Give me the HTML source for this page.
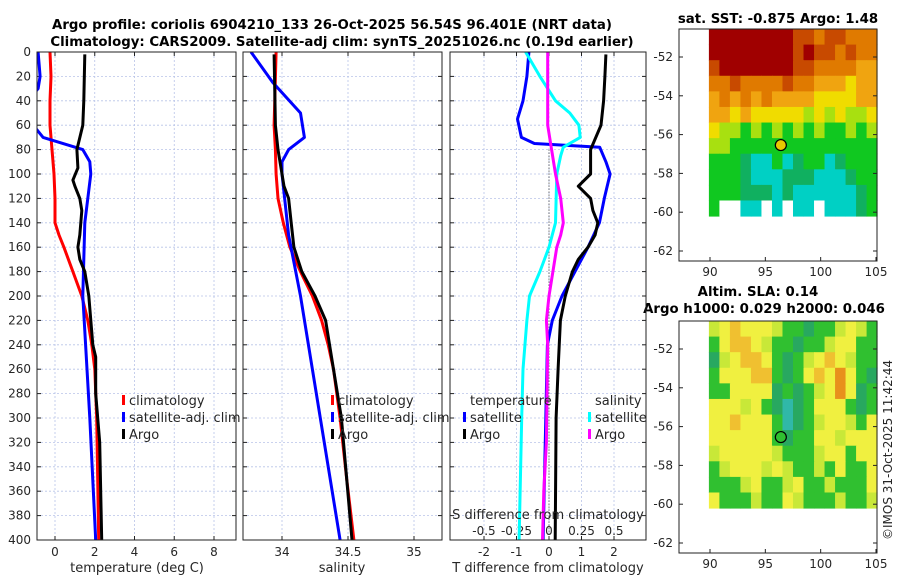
<!DOCTYPE html>
<html><head><meta charset="utf-8">
<style>
html,body{margin:0;padding:0;background:#fff;}
svg{display:block;font-family:"DejaVu Sans","Liberation Sans",sans-serif;}
.tk{font-size:12px;fill:#262626;}
.tt{font-size:13.3px;font-weight:bold;fill:#000;}
.lg{font-size:13px;fill:#262626;}
</style></head>
<body>
<svg id="fig" width="900" height="580" viewBox="0 0 900 580" xmlns="http://www.w3.org/2000/svg">
<text class="tt" x="332" y="29" text-anchor="middle">Argo profile: coriolis 6904210_133 26-Oct-2025 56.54S 96.401E (NRT data)</text>
<text class="tt" x="342" y="46" text-anchor="middle">Climatology: CARS2009. Satellite-adj clim: synTS_20251026.nc (0.19d earlier)</text>
<text class="tt" x="778" y="23" text-anchor="middle">sat. SST: -0.875 Argo: 1.48</text>
<text class="tt" x="758" y="296" text-anchor="middle">Altim. SLA: 0.14</text>
<text class="tt" x="764" y="313" text-anchor="middle">Argo h1000: 0.029 h2000: 0.046</text>
<text class="tk" x="0" y="0" transform="translate(892,540) rotate(-90)">©IMOS 31-Oct-2025 11:42:44</text>
</svg>
<script>
// ---------- data ----------
var tClimDepth=[0,20,40,60,80,100,120,140,150,160,180,200,220,240,260,300,350,400];
var tClimVal=[-0.25,-0.2,-0.25,-0.25,-0.15,-0.05,0.0,0.0,0.2,0.45,0.9,1.35,1.65,1.85,2.0,2.1,2.15,2.2];
var tSatDepth=[0,20,30,35,45,62,70,80,90,100,140,200,300,400];
var tSatVal=[-0.85,-0.75,-0.85,-1.1,-1.5,-1.0,-0.6,1.4,1.75,1.8,1.5,1.4,1.75,2.05];
var tArgoDepth=[2,40,60,80,95,105,110,120,130,150,160,170,180,200,220,240,250,280,300,320,400];
var tArgoVal=[1.5,1.45,1.4,1.1,1.15,0.9,1.0,1.25,1.35,1.25,1.15,1.25,1.5,1.7,1.8,1.9,2.05,2.05,2.15,2.25,2.35];
var sClimDepth=[0,60,80,100,120,140,160,180,200,220,240,260,300,350,400];
var sClimVal=[33.955,33.94,33.95,33.955,33.97,34.01,34.06,34.14,34.23,34.3,34.35,34.39,34.44,34.49,34.545];
var sArgoDepth=[2,60,80,100,110,120,140,160,180,200,220,260,300,350,400];
var sArgoVal=[33.94,33.95,33.97,34.0,34.015,34.05,34.07,34.09,34.15,34.25,34.33,34.39,34.45,34.49,34.53];
var sSatDepth=[0,25,50,70,80,90,100,150,200,300,400];
var sSatVal=[33.765,33.93,34.14,34.17,34.05,34.0,34.0,34.05,34.14,34.29,34.44];
var dTSatDepth=[0,20,40,55,70,75,78,90,100,120,140,160,180,200,220,240,300,400];
var dTSatVal=[-0.62,-0.68,-0.8,-0.97,-0.85,-0.45,1.56,1.75,1.88,1.7,1.55,1.2,0.8,0.4,0.1,-0.05,-0.1,-0.18];
var dTArgoDepth=[2,20,40,60,80,100,110,120,130,140,150,160,170,180,200,220,260,300,400];
var dTArgoVal=[1.75,1.72,1.68,1.6,1.28,1.28,0.9,1.28,1.35,1.5,1.42,1.2,0.9,0.72,0.5,0.35,0.28,0.22,0.19];
var dSSatDepth=[0,20,40,50,60,70,78,85,100,140,160,180,200,220,260,300,400];
var dSSatVal=[-0.18,-0.07,0.05,0.16,0.23,0.24,0.11,0.09,0.06,0.05,0.0,-0.07,-0.15,-0.17,-0.2,-0.21,-0.23];
var dSArgoDepth=[0,40,60,80,100,120,140,150,160,180,200,220,240,280,320,360,400];
var dSArgoVal=[-0.01,-0.01,-0.01,0.02,0.05,0.09,0.11,0.09,0.06,0.03,0.0,-0.02,-0.01,-0.015,-0.02,-0.04,-0.05];
var depthTicks=[0,20,40,60,80,100,120,140,160,180,200,220,240,260,280,300,320,340,360,380,400];
var tTicks=[0,2,4,6,8];
var sTicks=[34,34.5,35];
var sTickLabels=["34","34.5","35"];
var dTTicks=[-2,-1,0,1,2];
var dSTicks=[-0.5,-0.25,0,0.25,0.5];
var dSTickLabels=["-0.5","-0.25","0","0.25","0.5"];
var latTicks=[-52,-54,-56,-58,-60,-62];
var lonTicks=[90,95,100,105];
var argoLon=96.401, argoLat=-56.54;
var sstGrid=[
[0,0,0,0,0,0,0,0,1,1,2,1,1,2,2,2],
[0,0,0,0,0,0,0,0,1,0,1,1,2,1,2,2],
[1,0,0,0,0,0,0,0,1,1,2,2,2,2,3,3],
[2,2,1,2,2,2,2,1,2,2,3,3,3,4,3,3],
[3,2,3,2,3,2,3,3,3,3,4,4,4,4,3,3],
[3,3,4,3,4,4,4,4,4,5,4,5,4,5,5,4],
[4,5,5,6,5,6,5,6,5,6,5,6,6,5,6,5],
[5,5,6,6,6,6,6,6,6,6,6,6,6,6,6,6],
[6,6,6,7,8,8,6,8,7,6,6,8,7,6,6,6],
[6,6,6,7,8,8,8,7,7,7,8,8,8,7,6,6],
[6,6,6,7,7,7,8,7,8,8,8,8,8,8,7,6],
[6,-1,-1,8,8,-1,8,-1,8,8,-1,8,8,8,7,6]];
var slaGrid=[
[3,2,1,2,2,2,3,4,4,5,4,4,3,2,3,4],
[4,2,1,1,2,3,4,4,5,4,4,3,2,2,4,4],
[5,3,2,1,1,2,4,5,4,3,2,1,2,3,4,4],
[4,2,2,2,1,1,4,5,4,2,1,2,0,2,4,5],
[4,4,2,2,2,2,5,4,5,4,3,2,0,2,5,4],
[2,2,2,3,2,4,5,6,5,4,2,2,2,4,5,4],
[2,2,1,2,2,2,4,6,5,4,3,2,2,3,4,2],
[2,2,2,2,2,2,4,5,4,4,2,2,3,2,2,2],
[3,2,2,2,2,2,3,4,4,4,3,2,2,4,2,2],
[4,3,2,2,2,3,2,3,4,4,3,4,2,4,4,2],
[4,4,4,3,2,4,4,3,2,4,4,3,4,4,4,2],
[2,4,4,4,3,4,4,2,3,4,4,4,3,4,4,3]];
// ---------- helpers ----------
var NS="http://www.w3.org/2000/svg", svg=document.getElementById('fig');
function mk(tag,attrs,parent){var e=document.createElementNS(NS,tag);for(var k in attrs)e.setAttribute(k,attrs[k]);(parent||svg).appendChild(e);return e;}
var Y0=52,Y1=540;
function yD(d){return Y0+d*(Y1-Y0)/400;}
function lin(d0,d1,r0,r1){return function(v){return r0+(v-d0)*(r1-r0)/(d1-d0);};}
var panels=[
 {x0:37,x1:236,fx:lin(0,8,55,214),name:'temperature-panel'},
 {x0:243,x1:442,fx:lin(34,35,282,414),name:'salinity-panel'},
 {x0:450,x1:646,fx:lin(0,2,549,614),name:'difference-panel'}];
var dS=lin(0,0.5,549,614);
panels.forEach(function(p,i){
  var g=mk('g',{});
  
  
  mk('clipPath',{id:'cp'+i},g);
  mk('rect',{x:p.x0,y:Y0,width:p.x1-p.x0,height:Y1-Y0},g.lastChild);
  depthTicks.forEach(function(d){
    var l=mk('line',{x1:p.x0,x2:p.x1,y1:yD(d),y2:yD(d),stroke:'#b8c4e8','stroke-width':0.8,'stroke-dasharray':'2,2'},g);
    
    
    mk('line',{x1:p.x0,x2:p.x0+4,y1:yD(d),y2:yD(d),stroke:'#222'},g);
    mk('line',{x1:p.x1-4,x2:p.x1,y1:yD(d),y2:yD(d),stroke:'#222'},g);
  });
  p.g=g;
});
depthTicks.forEach(function(d){
  var t=mk('text',{x:31,y:yD(d)+4,'text-anchor':'end','class':'tk'});
  t.textContent=d;
  
  
});
function vgrid(p,vals,labels,ylab){
  vals.forEach(function(v,i){
    var x=p.fx(v);
    mk('line',{x1:x,x2:x,y1:Y0,y2:Y1,stroke:'#b8c4e8','stroke-width':0.8,'stroke-dasharray':'2,2'},p.g);
    mk('line',{x1:x,x2:x,y1:Y1-4,y2:Y1,stroke:'#222'},p.g);
    mk('line',{x1:x,x2:x,y1:Y0,y2:Y0+4,stroke:'#222'},p.g);
    var t=mk('text',{x:x,y:ylab,'text-anchor':'middle','class':'tk'});
    t.textContent=labels?labels[i]:v;
    
    
  });
}
vgrid(panels[0],tTicks,null,556);
vgrid(panels[1],sTicks,sTickLabels,556);
vgrid(panels[2],dTTicks,null,556);
dSTicks.forEach(function(v,i){
  var t=mk('text',{x:dS(v),y:535,'text-anchor':'middle','class':'tk'});
  t.textContent=dSTickLabels[i];
  
  
});
var zl=mk('line',{x1:panels[2].fx(0),x2:panels[2].fx(0),y1:yD(80),y2:Y1,stroke:'#333','stroke-width':1,'stroke-dasharray':'1,2'});


function line(pi,fx,ds,vs,col,name){
  var pts=ds.map(function(d,i){return fx(vs[i]).toFixed(1)+','+yD(d).toFixed(1);}).join(' ');
  var pl=mk('polyline',{points:pts,fill:'none',stroke:col,'stroke-width':3,'stroke-linejoin':'round','clip-path':'url(#cp'+pi+')'});
  
  
}
line(0,panels[0].fx,tClimDepth,tClimVal,'#ff0000','temp-climatology-line');
line(0,panels[0].fx,tSatDepth,tSatVal,'#0000ff','temp-satellite-line');
line(0,panels[0].fx,tArgoDepth,tArgoVal,'#000000','temp-argo-line');
line(1,panels[1].fx,sClimDepth,sClimVal,'#ff0000','sal-climatology-line');
line(1,panels[1].fx,sSatDepth,sSatVal,'#0000ff','sal-satellite-line');
line(1,panels[1].fx,sArgoDepth,sArgoVal,'#000000','sal-argo-line');
line(2,panels[2].fx,dTSatDepth,dTSatVal,'#0000ff','tdiff-satellite-line');
line(2,dS,dSSatDepth,dSSatVal,'#00ffff','sdiff-satellite-line');
line(2,dS,dSArgoDepth,dSArgoVal,'#ff00ff','sdiff-argo-line');
line(2,panels[2].fx,dTArgoDepth,dTArgoVal,'#000000','tdiff-argo-line');
panels.forEach(function(p){
  var r=mk('rect',{x:p.x0,y:Y0,width:p.x1-p.x0,height:Y1-Y0,fill:'none',stroke:'#222','stroke-width':1});
  
  
});
[['temperature (deg C)',137,572,'temperature-axis-title'],['salinity',342,572,'salinity-axis-title'],['T difference from climatology',548,572,'tdiff-axis-title'],['S difference from climatology',548,519,'sdiff-axis-title']].forEach(function(a){
  var t=mk('text',{x:a[1],y:a[2],'text-anchor':'middle','class':'lg'});
  t.textContent=a[0];
  
  
});
function leg(x,y,col,label){
  var g=mk('g',{});
  
  
  if(col)mk('rect',{x:x-7,y:y-10,width:3,height:10,fill:col},g);
  var t=mk('text',{x:x,y:y,'class':'lg'},g);t.textContent=label;
}
leg(129,405,'#ff0000','climatology');leg(129,422,'#0000ff','satellite-adj. clim');leg(129,439,'#000000','Argo');
leg(338,405,'#ff0000','climatology');leg(338,422,'#0000ff','satellite-adj. clim');leg(338,439,'#000000','Argo');
leg(470,405,null,'temperature');leg(470,422,'#0000ff','satellite');leg(470,439,'#000000','Argo');
leg(595,405,null,'salinity');leg(595,422,'#00ffff','satellite');leg(595,439,'#ff00ff','Argo');
// ---------- maps ----------
var sstCols={'-1':'#ffffff',0:'#a00000',1:'#c84a00',2:'#e07a00',3:'#f0a410',4:'#f0dc00',5:'#a8e010',6:'#10c820',7:'#10b060',8:'#00d0c4'};
var slaCols={0:'#e8901c',1:'#f0c030',2:'#f0f040',3:'#c8e838',4:'#30c030',5:'#28a860',6:'#30b8a8'};
function map(top,grid,cols,dotCol,name){
  var g=mk('g',{});
  
  
  var fxl=lin(90,105,710,876), fyl=function(lat){return top+28+(-52-lat)*19.4;};
  var ax0=679,ax1=877,ay0=top,ay1=top+232;
  var latTop=-52+(28/19.4), latBot=-60.2, lonL=89.9, lonR=105.1;
  var nr=grid.length,nc=grid[0].length;
  for(var r=0;r<nr;r++)for(var c=0;c<nc;c++){
    var v=grid[r][c];
    var la0=latTop+(latBot-latTop)*r/nr, la1=latTop+(latBot-latTop)*(r+1)/nr;
    var lo0=lonL+(lonR-lonL)*c/nc, lo1=lonL+(lonR-lonL)*(c+1)/nc;
    var cell=mk('rect',{x:fxl(lo0),y:fyl(la0),width:fxl(lo1)-fxl(lo0)+0.5,height:fyl(la1)-fyl(la0)+0.5,fill:cols[v]},g);
    
    
  }
  latTicks.forEach(function(l){
    var y=fyl(l);
    mk('line',{x1:ax0,x2:ax0+4,y1:y,y2:y,stroke:'#222'},g);
    mk('line',{x1:ax1-4,x2:ax1,y1:y,y2:y,stroke:'#222'},g);
    var t=mk('text',{x:673,y:y+4,'text-anchor':'end','class':'tk'},g);
    t.textContent=l;
    
    
  });
  lonTicks.forEach(function(l){
    var x=fxl(l);
    mk('line',{x1:x,x2:x,y1:ay1-4,y2:ay1,stroke:'#222'},g);
    var t=mk('text',{x:x,y:ay1+15,'text-anchor':'middle','class':'tk'},g);
    t.textContent=l;
    
    
  });
  var fr=mk('rect',{x:ax0,y:ay0,width:ax1-ax0,height:ay1-ay0,fill:'none',stroke:'#222'},g);
  
  
  var dot=mk('circle',{cx:fxl(argoLon),cy:fyl(argoLat),r:5.5,fill:dotCol,stroke:'#000','stroke-width':1.2},g);
  
  
}
map(29,sstGrid,sstCols,'#e8c800','sst-map');
map(321,slaGrid,slaCols,'#30c030','sla-map');
</script>
</body></html>
